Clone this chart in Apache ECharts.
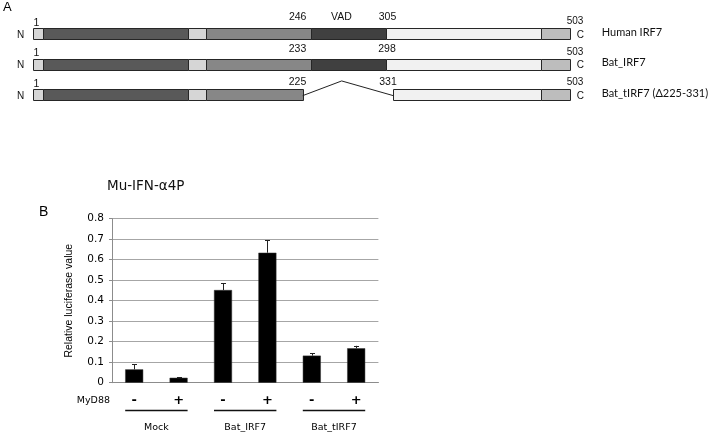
<!DOCTYPE html>
<html><head><meta charset="utf-8">
<script src="https://cdn.jsdelivr.net/npm/echarts@6/dist/echarts.min.js"></script>
<style>html,body{margin:0;padding:0;background:#fff}#c{width:710px;height:435px}</style>
</head><body><div id="c"></div>
<script>
// ---------- Panel A data (schematic units along the protein diagrams) ----------
const proteinNames = ['Human IRF7', 'Bat_IRF7', 'Bat_tIRF7 (Δ225-331)'];
const domainKinds = ['Nterm', 'DBD', 'linker', 'IAD1', 'VAD', 'IAD2', 'Cterm'];
// [start, end, domain kind index]
const humanSegments = [[0, 10, 0], [10, 155, 1], [155, 172.4, 2], [172.4, 277.4, 3], [277.4, 352.7, 4], [352.7, 507.7, 5], [507.7, 537, 6]];
const batSegments   = [[0, 10, 0], [10, 155, 1], [155, 172.4, 2], [172.4, 277.4, 3], [277.4, 352.7, 4], [352.7, 507.7, 5], [507.7, 537, 6]];
const tSegments     = [[0, 10, 0], [10, 155, 1], [155, 172.4, 2], [172.4, 269.4, 3], [360, 507.7, 5], [507.7, 537, 6]];
// [position, text, kind]
const humanLabels = [[3, '1', 'start'], [264.4, '246', 'mid'], [308.2, 'VAD', 'mid'], [354.2, '305', 'mid'], [541.7, '503', 'end']];
const batLabels   = [[3, '1', 'start'], [264.2, '233', 'mid'], [353.7, '298', 'mid'], [541.7, '503', 'end']];
const tLabels     = [[3, '1', 'start'], [264.2, '225', 'mid'], [354.7, '331', 'mid'], [541.7, '503', 'end']];
// deletion in Bat_tIRF7: [row, from, peak, to]
const deletionLink = [2, 269.4, 308.4, 360];

// ---------- Panel B data ----------
const categories = ['Mock -', 'Mock +', 'Bat_IRF7 -', 'Bat_IRF7 +', 'Bat_tIRF7 -', 'Bat_tIRF7 +'];
const myd88Labels = ['-', '+', '-', '+', '-', '+'];
const groups = ['Mock', 'Bat_IRF7', 'Bat_tIRF7'];
const luciferase = [0.065, 0.024, 0.452, 0.634, 0.132, 0.168];
const errorUp = [0.025, 0.003, 0.033, 0.061, 0.011, 0.012];
const yMin = 0, yMax = 0.8, yStep = 0.1;

// ---------- styles ----------
const domainColors = ['#d6d6d6', '#595959', '#d6d6d6', '#878787', '#404040', '#f1f1f1', '#bdbdbd'];
const midLabelLift = [17, 15, 13];
const ARIAL = '"Liberation Sans", Arial, sans-serif';
const WIDE = '"DejaVu Sans", sans-serif';
const NAMEFONT = 'Lato, "Noto Sans", sans-serif';
const BAR_W = 18;

const rowsSegments = [humanSegments, batSegments, tSegments];
const rowsLabels = [humanLabels, batLabels, tLabels];

const segData = [];
rowsSegments.forEach((segs, r) => segs.forEach(s => segData.push([r, s[0], s[1], s[2]])));

const posData = [], posText = [], posKind = [];
rowsLabels.forEach((labs, r) => labs.forEach(l => { posData.push([l[0], r]); posText.push(l[1]); posKind.push(l[2]); }));

const rowExtent = rowsSegments.map(segs => [segs[0][0], segs[segs.length - 1][1]]);

const chart = echarts.init(document.getElementById('c'));

chart.setOption({
  animation: false,
  backgroundColor: '#fff',
  grid: [
    { left: 33.3, top: 18.4, width: 537, height: 91.5 },
    { left: 112, top: 218.7, width: 266.4, height: 164 }
  ],
  xAxis: [
    { gridIndex: 0, type: 'value', min: 0, max: 537, show: false },
    {
      gridIndex: 1, type: 'category', data: categories,
      axisLine: { lineStyle: { color: '#8c8c8c', width: 1 } },
      axisTick: { show: false },
      axisLabel: {
        formatter: (v, i) => myd88Labels[i], fontFamily: WIDE, fontSize: 13, fontWeight: 'bold',
        color: '#000', margin: 11
      }
    },
    {
      gridIndex: 1, type: 'category', data: groups, position: 'bottom', offset: 30,
      axisLine: { show: false }, axisTick: { show: false }, splitLine: { show: false },
      axisLabel: { fontFamily: WIDE, fontSize: 9.5, color: '#000', margin: 10 }
    }
  ],
  yAxis: [
    { gridIndex: 0, type: 'value', min: -0.5, max: 2.5, inverse: true, show: false },
    {
      gridIndex: 1, type: 'value', min: yMin, max: yMax, interval: yStep,
      name: 'Relative luciferase value', nameLocation: 'middle', nameGap: 37,
      nameTextStyle: { fontFamily: ARIAL, fontSize: 10.5, color: '#000' },
      axisLine: { show: true, lineStyle: { color: '#8c8c8c', width: 1 } },
      axisTick: { show: true, length: 3, lineStyle: { color: '#8c8c8c' } },
      axisLabel: { fontFamily: WIDE, fontSize: 10.5, color: '#000', margin: 8 },
      splitLine: { lineStyle: { color: '#a6a6a6', width: 1 } }
    }
  ],
  graphic: [
    { type: 'text', left: 3, top: 1, style: { text: 'A', font: '13px ' + ARIAL, fill: '#000' } },
    { type: 'text', left: 39, top: 205, style: { text: 'B', font: '14px ' + ARIAL, fill: '#000' } },
    { type: 'text', left: 107, top: 179, style: { text: 'Mu-IFN-α4P', font: '13.5px ' + WIDE, fill: '#111' } },
    { type: 'text', x: 110, y: 401, style: { text: 'MyD88', font: '9.5px ' + WIDE, fill: '#000', align: 'right', verticalAlign: 'middle' } }
  ],
  series: [
    {
      type: 'custom', xAxisIndex: 0, yAxisIndex: 0, data: segData,
      renderItem: (params, api) => {
        const a = api.coord([api.value(1), api.value(0)]);
        const b = api.coord([api.value(2), api.value(0)]);
        const k = api.value(3);
        return {
          type: 'rect',
          shape: { x: Math.round(a[0]) + 0.5, y: Math.round(a[1] - 5.5) + 0.5, width: Math.round(b[0]) - Math.round(a[0]), height: 11 },
          style: { fill: domainColors[k], stroke: '#262626', lineWidth: 1 }
        };
      }
    },
    {
      type: 'custom', xAxisIndex: 0, yAxisIndex: 0, data: [deletionLink],
      renderItem: (params, api) => {
        const r = api.value(0);
        const p1 = api.coord([api.value(1), r]);
        const p2 = api.coord([api.value(2), r]);
        const p3 = api.coord([api.value(3), r]);
        return {
          type: 'polyline',
          shape: { points: [[p1[0], p1[1] + 1], [p2[0], p2[1] - 13.7], [p3[0], p3[1] + 1]] },
          style: { stroke: '#222', lineWidth: 1, fill: null }
        };
      }
    },
    {
      type: 'custom', xAxisIndex: 0, yAxisIndex: 0, data: posData,
      renderItem: (params, api) => {
        const i = params.dataIndex;
        const r = api.value(1);
        const p = api.coord([api.value(0), r]);
        const kind = posKind[i];
        const lift = kind === 'mid' ? midLabelLift[r] : (kind === 'start' ? 10.6 : 12.2);
        const fs = kind === 'end' ? 10 : 10.5;
        return {
          type: 'text',
          style: { text: posText[i], x: p[0], y: p[1] - lift, align: 'center', verticalAlign: 'middle', font: fs + 'px ' + ARIAL, fill: '#111' }
        };
      }
    },
    {
      type: 'custom', xAxisIndex: 0, yAxisIndex: 0, data: proteinNames.map((n, r) => [rowExtent[r][0], r, rowExtent[r][1]]),
      renderItem: (params, api) => {
        const r = api.value(1);
        const s = api.coord([api.value(0), r]);
        const e = api.coord([api.value(2), r]);
        return {
          type: 'group',
          children: [
            { type: 'text', style: { text: 'N', x: s[0] - 12.8, y: s[1] + 1.5, align: 'center', verticalAlign: 'middle', font: '10px ' + ARIAL, fill: '#111' } },
            { type: 'text', style: { text: 'C', x: e[0] + 10, y: e[1] + 1.5, align: 'center', verticalAlign: 'middle', font: '10px ' + ARIAL, fill: '#111' } },
            { type: 'text', style: { text: proteinNames[params.dataIndex], x: e[0] + 31.4, y: e[1] - 1.5, align: 'left', verticalAlign: 'middle', font: '11px ' + NAMEFONT, fill: '#111' } }
          ]
        };
      }
    },
    {
      type: 'bar', xAxisIndex: 1, yAxisIndex: 1, data: luciferase, barWidth: BAR_W,
      itemStyle: { color: '#000', borderColor: '#333', borderWidth: 0.5 }
    },
    {
      type: 'custom', xAxisIndex: 1, yAxisIndex: 1,
      data: luciferase.map((v, i) => [i, v, v + errorUp[i]]),
      renderItem: (params, api) => {
        const base = api.coord([api.value(0), api.value(1)]);
        const top = api.coord([api.value(0), api.value(2)]);
        const x = Math.round(base[0]) + 0.5;
        return {
          type: 'group',
          children: [
            { type: 'line', shape: { x1: x, y1: base[1], x2: x, y2: top[1] }, style: { stroke: '#222', lineWidth: 1 } },
            { type: 'line', shape: { x1: x - 2.5, y1: Math.round(top[1]) + 0.5, x2: x + 2.5, y2: Math.round(top[1]) + 0.5 }, style: { stroke: '#222', lineWidth: 1 } }
          ]
        };
      },
      z: 3
    },
    {
      type: 'custom', xAxisIndex: 1, yAxisIndex: 1,
      data: groups.map((g, gi) => [gi * 2, 0]),
      renderItem: (params, api) => {
        const a = api.coord([api.value(0), 0]);
        const b = api.coord([api.value(0) + 1, 0]);
        const y = Math.round(a[1] + 27) + 0.5;
        return {
          type: 'line',
          shape: { x1: a[0] - BAR_W / 2, y1: y, x2: b[0] + BAR_W / 2, y2: y },
          style: { stroke: '#111', lineWidth: 1.3 }
        };
      }
    }
  ]
});
</script>
</body></html>
